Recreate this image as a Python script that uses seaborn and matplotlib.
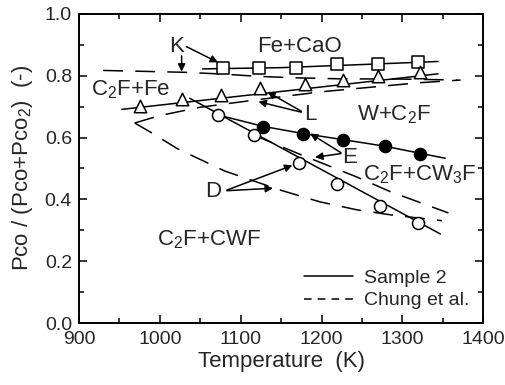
import numpy as np
import pandas as pd
import matplotlib
matplotlib.use("Agg")
import matplotlib.pyplot as plt
import seaborn as sns
from matplotlib.lines import Line2D
from matplotlib.ticker import MultipleLocator

# medidas (Sample 2)
sq_T = [1078, 1123, 1169, 1219, 1270, 1319]
sq_v = [0.824, 0.824, 0.826, 0.837, 0.839, 0.845]
tri_T = [975, 1027, 1076, 1124, 1179, 1226, 1270, 1322]
tri_v = [0.702, 0.724, 0.738, 0.761, 0.772, 0.786, 0.799, 0.812]
oc_T = [1072, 1116, 1172, 1219, 1272, 1319]
oc_v = [0.673, 0.608, 0.519, 0.449, 0.380, 0.325]
fc_T = [1128, 1177, 1227, 1279, 1322]
fc_v = [0.633, 0.612, 0.592, 0.573, 0.547]

# curvas ajustadas (Sample 2, linha cheia)
k_fit_T = [1053, 1150, 1250, 1344]
k_fit_v = [0.822, 0.826, 0.836, 0.846]
l_fit_T = [953, 1344]
l_fit_v = [0.691, 0.806]
d_fit_T = [1037, 1347]
d_fit_v = [0.727, 0.288]
e_fit_T = [1072, 1128, 1177, 1227, 1278, 1322, 1353]
e_fit_v = [0.673, 0.636, 0.613, 0.593, 0.572, 0.549, 0.533]

# Chung et al. (tracejado)
k_ch_T = [930, 1030, 1080, 1120, 1170, 1220, 1300, 1368]
k_ch_v = [0.817, 0.811, 0.805, 0.798, 0.793, 0.790, 0.789, 0.786]
l_ch_T = [969, 1000, 1050, 1120, 1200, 1320, 1372]
l_ch_v = [0.647, 0.671, 0.698, 0.722, 0.748, 0.777, 0.786]
d_ch_T = [969, 992, 1021, 1080, 1149, 1198, 1244, 1285, 1349]
d_ch_v = [0.647, 0.612, 0.565, 0.492, 0.430, 0.392, 0.366, 0.350, 0.331]
e_ch_T = [1116, 1174, 1242, 1285, 1357]
e_ch_v = [0.608, 0.545, 0.474, 0.425, 0.356]

sns.set_style("ticks")
plt.rcParams['font.family'] = ['Liberation Sans', 'DejaVu Sans']
plt.rcParams['mathtext.fontset'] = 'custom'
plt.rcParams['mathtext.rm'] = 'Liberation Sans'
plt.rcParams['mathtext.default'] = 'regular'
fs = 16
fs_tick = 14

fig = plt.figure(figsize=(5.06, 3.85), dpi=100)
ax = fig.add_axes([0.156, 0.161, 0.799, 0.803])

lw = 1.1
for T, v in [(k_fit_T, k_fit_v), (l_fit_T, l_fit_v), (d_fit_T, d_fit_v), (e_fit_T, e_fit_v)]:
    sns.lineplot(x=T, y=v, ax=ax, color='black', lw=lw, sort=False, estimator=None)
for T, v in [(k_ch_T, k_ch_v), (l_ch_T, l_ch_v), (d_ch_T, d_ch_v), (e_ch_T, e_ch_v)]:
    ax.plot(T, v, color='black', lw=lw, dashes=(13, 8))

mk = dict(ax=ax, edgecolor='black', linewidth=1.1, zorder=5, legend=False)
sns.scatterplot(x=sq_T, y=sq_v, marker='s', s=85, facecolor='white', **mk)
sns.scatterplot(x=tri_T, y=tri_v, marker='^', s=80, facecolor='white', **mk)
sns.scatterplot(x=oc_T, y=oc_v, marker='o', s=75, facecolor='white', **mk)
sns.scatterplot(x=fc_T, y=fc_v, marker='o', s=75, facecolor='black', **mk)

# textos das regiões
ax.text(1173, 0.896, 'Fe+CaO', fontsize=fs, ha='center', va='center')
ax.text(964, 0.756, 'C$_2$F+Fe', fontsize=fs, ha='center', va='center')
ax.text(1290, 0.673, 'W+C$_2$F', fontsize=fs, ha='center', va='center')
ax.text(1322, 0.479, 'C$_2$F+CW$_3$F', fontsize=fs, ha='center', va='center')
ax.text(1061, 0.269, 'C$_2$F+CWF', fontsize=fs, ha='center', va='center')

# rótulos com setas
ap = dict(arrowstyle='-|>', color='black', lw=1.1, mutation_scale=11, shrinkA=0, shrinkB=0)
ax.text(1021, 0.893, 'K', fontsize=fs, ha='center', va='center')
ax.annotate('', xy=(1072, 0.843), xytext=(1033, 0.894), arrowprops=ap)
ax.annotate('', xy=(1027, 0.813), xytext=(1027, 0.864), arrowprops=ap)
ax.text(1186, 0.673, 'L', fontsize=fs, ha='center', va='center')
ax.annotate('', xy=(1133, 0.748), xytext=(1175, 0.685), arrowprops=ap)
ax.annotate('', xy=(1122, 0.716), xytext=(1175, 0.682), arrowprops=ap)
ax.text(1235, 0.534, 'E', fontsize=fs, ha='center', va='center')
ax.annotate('', xy=(1186, 0.613), xytext=(1224, 0.551), arrowprops=ap)
ax.annotate('', xy=(1192, 0.536), xytext=(1224, 0.548), arrowprops=ap)
ax.text(1066, 0.424, 'D', fontsize=fs, ha='center', va='center')
ax.annotate('', xy=(1164, 0.510), xytext=(1083, 0.430), arrowprops=ap)
ax.annotate('', xy=(1140, 0.436), xytext=(1083, 0.428), arrowprops=ap)

handles = [Line2D([], [], color='black', lw=lw),
           Line2D([], [], color='black', lw=lw, dashes=(5, 4))]
ax.legend(handles, ['Sample 2', 'Chung et al.'], loc='lower right', frameon=False,
          fontsize=fs_tick, handlelength=2.5, handletextpad=0.6, labelspacing=0.25,
          bbox_to_anchor=(1.0, 0.0), borderaxespad=0.3)

ax.set_xlim(900, 1400)
ax.set_ylim(0, 1.0)
ax.xaxis.set_major_locator(MultipleLocator(100))
ax.xaxis.set_minor_locator(MultipleLocator(50))
ax.yaxis.set_major_locator(MultipleLocator(0.2))
ax.yaxis.set_minor_locator(MultipleLocator(0.1))
ax.set_yticks(np.arange(0, 1.01, 0.2))
ax.set_yticklabels([f'{t:.1f}' for t in np.arange(0, 1.01, 0.2)])
ax.tick_params(which='both', direction='in', top=True, right=True, labelsize=fs_tick,
               width=1.1, color='black')
ax.tick_params(which='major', length=6)
ax.tick_params(axis='x', which='major', pad=6)
ax.tick_params(axis='y', which='major', pad=5)
ax.tick_params(which='minor', length=3.5)
for sp in ax.spines.values():
    sp.set_linewidth(1.4)
    sp.set_color('black')

ax.set_xlabel('Temperature  (K)', fontsize=fs, labelpad=2)
ax.set_ylabel('Pco / (Pco+Pco$_2$)  (-)', fontsize=fs, labelpad=7)

fig.savefig('out.png', dpi=100)
